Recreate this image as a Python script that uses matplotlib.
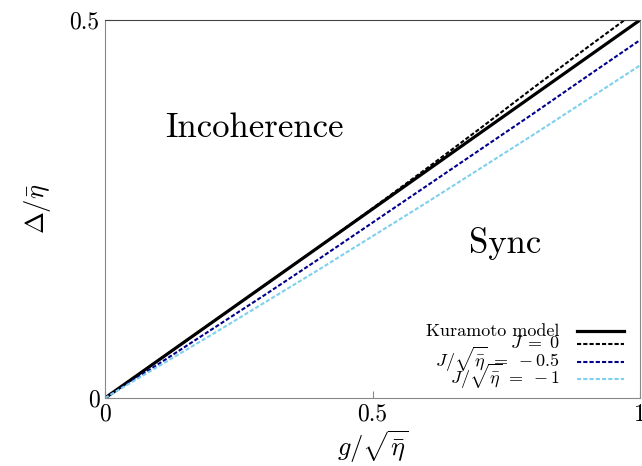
import matplotlib
matplotlib.use("Agg")
import matplotlib.pyplot as plt
from matplotlib.lines import Line2D

plt.rcParams['font.family'] = 'serif'
plt.rcParams['font.serif'] = ['cmr10', 'DejaVu Serif']
plt.rcParams['mathtext.fontset'] = 'cm'
plt.rcParams['axes.unicode_minus'] = False

# datos
g = [0.0, 0.1, 0.2, 0.3, 0.4, 0.5, 0.6, 0.7, 0.8, 0.9, 1.0]
kuramoto = [0.0, 0.05, 0.1, 0.15, 0.2, 0.25, 0.3, 0.35, 0.4, 0.45, 0.5]
j_0 = [0.0, 0.05, 0.1, 0.15, 0.2, 0.251, 0.303, 0.356, 0.41, 0.463, 0.515]
j_m05 = [0.0, 0.045, 0.091, 0.137, 0.184, 0.232, 0.28, 0.328, 0.376, 0.425, 0.4735]
j_m1 = [0.0, 0.042, 0.084, 0.127, 0.170, 0.214, 0.258, 0.303, 0.348, 0.394, 0.440]

etiquetas = ['Kuramoto model', r'$J\;=\;0$',
             r'$J/\sqrt{\bar{\eta}}\;=\;-0.5$', r'$J/\sqrt{\bar{\eta}}\;=\;-1$']
series = [kuramoto, j_0, j_m05, j_m1]
colores = ['black', 'black', '#00008b', '#7fd0ec']
anchos = [2.3, 1.5, 1.5, 1.5]
estilos = ['-', (0, (2, 1)), (0, (2, 1)), (0, (2, 1))]

fig = plt.figure(figsize=(6.42, 4.66), dpi=100)
ax = fig.add_axes([0.1636, 0.1459, 0.8333, 0.8111])

for s, c, w, e in zip(series, colores, anchos, estilos):
    ax.plot(g, s, color=c, lw=w, ls=e)

# leyenda armada a mano (filas superpuestas como en gnuplot)
filas_y = [0.177, 0.143, 0.095, 0.050]
for yy, lab, c, w, e in zip(filas_y, etiquetas, colores, anchos, estilos):
    ax.add_line(Line2D([0.882, 0.970], [yy, yy], transform=ax.transAxes,
                       color=c, lw=w, ls=e))
    ax.text(0.850, yy - 0.012, lab, transform=ax.transAxes, fontsize=13,
            ha='right', va='baseline')

ax.set_xlim(0, 1)
ax.set_ylim(0, 0.5)
ax.set_xticks([0, 0.5, 1])
ax.set_xticklabels(['0', '0.5', '1'])
ax.set_yticks([0, 0.5])
ax.set_yticklabels(['0', '0.5'])
ax.tick_params(direction='in', length=5, labelsize=17, pad=4, color='#888888')

for s in ['left', 'bottom', 'right']:
    ax.spines[s].set_color('#888888')
ax.spines['top'].set_color('#444444')

ax.set_xlabel(r'$g/\sqrt{\bar{\eta}}$', fontsize=19, labelpad=2)
ax.set_ylabel(r'$\Delta/\bar{\eta}$', fontsize=19, labelpad=12)

ax.text(0.28, 0.357, 'Incoherence', fontsize=25, ha='center', va='center')
ax.text(0.748, 0.205, 'Sync', fontsize=25, ha='center', va='center')

fig.savefig('out.png', dpi=100)
